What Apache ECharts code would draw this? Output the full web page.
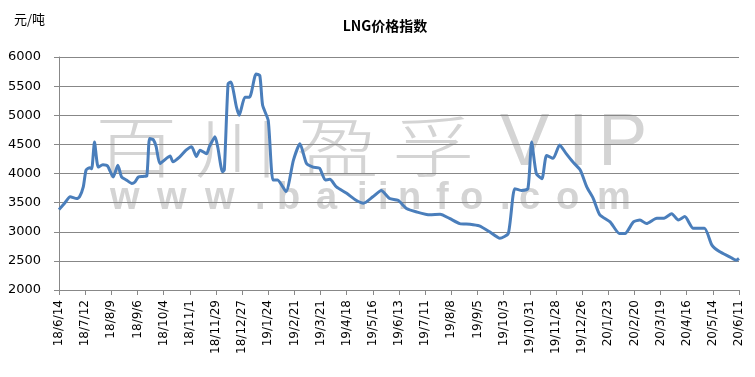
<!DOCTYPE html>
<html>
<head>
<meta charset="utf-8">
<script src="https://cdn.jsdelivr.net/npm/echarts@6/dist/echarts.min.js"></script>
<style>
html, body { margin: 0; padding: 0; background: #fff; }
#main { width: 755px; height: 377px; }
</style>
</head>
<body>
<div id="main"></div>
<script>
// x 轴刻度 (每4周一个)
var tickLabels = ['18/6/14', '18/7/12', '18/8/9', '18/9/6', '18/10/4', '18/11/1', '18/11/29',
  '18/12/27', '19/1/24', '19/2/21', '19/3/21', '19/4/18', '19/5/16', '19/6/13', '19/7/11',
  '19/8/8', '19/9/5', '19/10/3', '19/10/31', '19/11/28', '19/12/26', '20/1/23', '20/2/20',
  '20/3/19', '20/4/16', '20/5/14', '20/6/11'];

// 距 18/6/14 的天数
var days = [0, 6, 12, 19, 22, 26, 29, 33, 35, 38, 42, 47, 52, 58, 63, 67, 72, 78, 81, 85,
  90, 94, 97, 101, 104, 108, 115, 119, 122, 129, 136, 142, 147, 151, 158, 161, 167, 170, 175, 177,
  181, 184, 190, 193, 199, 204, 211, 215, 218, 224, 229, 234, 243, 251, 258, 265, 272, 279, 285, 290,
  297, 308, 318, 326, 336, 345, 354, 363, 372, 383, 397, 408, 418, 429, 440, 450, 461, 472, 481, 488,
  495, 502, 506, 511, 517, 522, 529, 536, 543, 550, 558, 565, 572, 579, 590, 600, 606, 615, 622, 629,
  640, 647, 656, 663, 670, 679, 691, 699, 707, 718, 725, 728];

// LNG价格指数 元/吨
var prices = [3380, 3490, 3600, 3570, 3600, 3770, 4060, 4100, 4080, 4540, 4110, 4150, 4130, 3940, 4140, 3940, 3890, 3830, 3850, 3940,
  3950, 3960, 4600, 4580, 4460, 4170, 4260, 4300, 4200, 4280, 4400, 4460, 4290, 4400, 4340, 4460, 4630, 4450, 4030, 4060,
  5540, 5570, 5140, 5000, 5310, 5310, 5710, 5680, 5170, 4910, 3890, 3890, 3690, 4230, 4510, 4170, 4110, 4090, 3890, 3900,
  3770, 3660, 3540, 3490, 3600, 3710, 3570, 3540, 3400, 3340, 3290, 3300, 3230, 3140, 3130, 3100, 3000, 2890, 2970, 3740,
  3710, 3740, 4540, 4000, 3910, 4310, 4260, 4490, 4340, 4200, 4060, 3770, 3570, 3290, 3170, 2970, 2970, 3170, 3200, 3140,
  3230, 3230, 3310, 3200, 3260, 3060, 3060, 2770, 2660, 2570, 2510, 2540];

var yTicks = [2000, 6000, 500];

var myChart = echarts.init(document.getElementById('main'));

var lineData = days.map(function (d, i) { return [d, prices[i]]; });

// 水印
var wmColor = '#d4d4d4';
var graphics = [];
var bigChars = ['百', '川', '盈', '孚'];
var bigX = [95, 195, 296, 392];
bigChars.forEach(function (ch, i) {
  graphics.push({
    type: 'text', x: bigX[i], y: 114, scaleX: 1.25, silent: true, z: -1,
    style: { text: ch, fontSize: 66, fontFamily: 'Noto Sans CJK SC', fontWeight: 300, fill: wmColor }
  });
});
var vipX = [500, 568, 598];
'VIP'.split('').forEach(function (ch, i) {
  graphics.push({
    type: 'text', x: vipX[i], y: 108, silent: true, z: -1,
    style: { text: ch, fontSize: 74, fontFamily: 'Liberation Sans', fill: wmColor }
  });
});
var urlX = [110, 157, 205, 255, 277, 316, 357, 378, 398, 436, 460, 500, 519, 556, 597];
'www.baiinfo.com'.split('').forEach(function (ch, i) {
  graphics.push({
    type: 'text', x: urlX[i], y: 199, silent: true, z: -1,
    style: { text: ch, fontSize: 38, fontFamily: 'Liberation Sans', fontWeight: 'bold',
      fill: wmColor, verticalAlign: 'middle' }
  });
});
graphics.push({
  type: 'text', left: 14, top: 13,
  style: { text: '元/吨', fontSize: 13, fontFamily: 'Noto Sans CJK SC', fill: '#000' }
});

var option = {
  animation: false,
  backgroundColor: '#fff',
  title: {
    text: 'LNG价格指数',
    left: 380, top: 14, textAlign: 'center',
    textStyle: { fontSize: 14, fontWeight: 'bold', fontFamily: 'Noto Sans CJK SC', color: '#000' }
  },
  graphic: graphics,
  grid: { left: 59, right: 16, top: 57, bottom: 87 },
  xAxis: {
    type: 'value',
    min: 0, max: 728, interval: 28,
    axisLine: { lineStyle: { color: '#888', width: 1 } },
    axisTick: { show: true, length: 5, lineStyle: { color: '#888' } },
    splitLine: { show: false },
    axisLabel: {
      rotate: 90, margin: 10, fontSize: 12, color: '#000', fontFamily: 'DejaVu Sans',
      formatter: function (v) { return tickLabels[Math.round(v / 28)]; }
    }
  },
  yAxis: {
    type: 'value',
    min: yTicks[0], max: yTicks[1], interval: yTicks[2],
    axisLine: { show: true, lineStyle: { color: '#888' } },
    axisTick: { show: true, length: 5, lineStyle: { color: '#888' } },
    splitLine: { lineStyle: { color: '#878787', width: 1 } },
    axisLabel: {
      fontSize: 13, color: '#000', margin: 18, fontFamily: 'DejaVu Sans',
      formatter: function (v) { return String(v); }
    }
  },
  series: [{
    type: 'line',
    data: lineData,
    showSymbol: false,
    smooth: 0.2,
    z: 5,
    lineStyle: { color: '#4A7EBB', width: 3 }
  }]
};

myChart.setOption(option);
</script>
</body>
</html>
